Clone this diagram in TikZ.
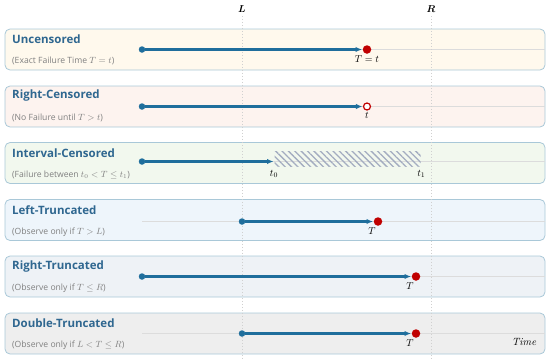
\documentclass[tikz,border=0pt]{standalone}
\usepackage{amsmath}
\usepackage{amssymb}
\usepackage{xcolor}
\usepackage{fontspec}
\setsansfont{Open Sans}
\usepackage{tikz}
\usetikzlibrary{positioning,patterns.meta,arrows.meta}

\definecolor{edgeblue}{HTML}{A9C8D8}
\definecolor{headblue}{HTML}{2F6790}
\definecolor{notegray}{HTML}{808080}
\definecolor{lineblue}{HTML}{1F6E9C}
\definecolor{failred}{HTML}{C00000}
\definecolor{axisgray}{HTML}{DCDCDC}
\definecolor{guidegray}{HTML}{D0D0D0}
\definecolor{hatchgray}{HTML}{A3ACC0}
\definecolor{fillone}{HTML}{FFF9ED}
\definecolor{filltwo}{HTML}{FDF3EF}
\definecolor{fillthree}{HTML}{F2F8EE}
\definecolor{fillfour}{HTML}{EEF5FB}
\definecolor{fillfive}{HTML}{EEF2F6}
\definecolor{fillsix}{HTML}{EEEEEE}

\begin{document}
\begin{tikzpicture}[x=1pt,y=-1pt,
  panel/.style={rectangle, rounded corners=5pt, draw=edgeblue, line width=0.8pt,
    minimum width=540pt, minimum height=41pt, inner sep=0pt},
  heading/.style={anchor=west, inner sep=0pt, text=headblue,
    font=\sffamily\bfseries\fontsize{11.5}{13}\selectfont},
  note/.style={anchor=west, inner sep=0pt, text=notegray,
    font=\sffamily\fontsize{8.6}{10}\selectfont},
  startdot/.style={circle, fill=lineblue, inner sep=0pt, minimum size=6.5pt},
  faildot/.style={circle, fill=failred, inner sep=0pt, minimum size=8.5pt},
  censdot/.style={circle, draw=failred, fill=white, line width=1.2pt, inner sep=0pt, minimum size=7pt},
  span/.style={-{Latex[length=6.5pt,width=5.5pt]}, draw=lineblue, line width=2.1pt, shorten >=0.5pt},
  axis/.style={draw=axisgray, line width=0.6pt},
  guide/.style={draw=guidegray, line width=0.5pt, dash pattern=on 1.5pt off 1.5pt},
  mark label/.style={inner sep=1pt, font=\fontsize{10}{12}\selectfont}]
\useasboundingbox (0,0) rectangle (550,359);

% panels
\node (uncens) [panel, fill=fillone] at (275,49.5) {};
\node (rcens) [panel, fill=filltwo] at (275,106.5) {};
\node (icens) [panel, fill=fillthree] at (275,163) {};
\node (ltrunc) [panel, fill=fillfour] at (275,220) {};
\node (rtrunc) [panel, fill=fillfive] at (275,276.5) {};
\node (dtrunc) [panel, fill=fillsix] at (275,333.5) {};

% headings and notes
\node (uncenshead) [heading] at (12,39) {Uncensored};
\node (uncensnote) [note] at (12,61) {(Exact Failure Time $T=t$)};
\node (rcenshead) [heading] at (12,96) {Right-Censored};
\node (rcensnote) [note] at (12,118) {(No Failure until $T>t$)};
\node (icenshead) [heading] at (12,153) {Interval-Censored};
\node (icensnote) [note] at (12,175) {(Failure between $t_0<T\leq t_1$)};
\node (ltrunchead) [heading] at (12,210) {Left-Truncated};
\node (ltruncnote) [note] at (12,232) {(Observe only if $T>L$)};
\node (rtrunchead) [heading] at (12,267) {Right-Truncated};
\node (rtruncnote) [note] at (12,288.5) {(Observe only if $T\leq R$)};
\node (dtrunchead) [heading] at (12,323.5) {Double-Truncated};
\node (dtruncnote) [note] at (12,345) {(Observe only if $L<T\leq R$)};

% time axes
\coordinate (axone) at (142,49.5);
\coordinate (axtwo) at (142,106.5);
\coordinate (axthree) at (142,161.5);
\coordinate (axfour) at (142,221.5);
\coordinate (axfive) at (142,276.5);
\coordinate (axsix) at (142,333.5);
\draw[axis] (axone) -- (axone -| uncens.east);
\draw[axis] (axtwo) -- (axtwo -| rcens.east);
\draw[axis] (axthree) -- (axthree -| icens.east);
\draw[axis] (axfour) -- (axfour -| ltrunc.east);
\draw[axis] (axfive) -- (axfive -| rtrunc.east);
\draw[axis] (axsix) -- (axsix -| dtrunc.east);

% L and R guides
\node (Lmark) at (242,9) {$\boldsymbol{L}$};
\node (Rmark) at (431,9) {$\boldsymbol{R}$};
\coordinate (Lend) at (242,359);
\coordinate (Rend) at (431,359);
\draw[guide] (Lmark.south) -- (Lend);
\draw[guide] (Rmark.south) -- (Rend);

% uncensored
\node (unstart) [startdot] at (axone) {};
\node (unfail) [faildot] at (367,49.5) {};
\node (unlabel) [mark label, below=1pt of unfail] {$T=t$};
\draw[span] (unstart) -- (unfail);

% right-censored
\node (rcstart) [startdot] at (axtwo) {};
\node (rccens) [censdot] at (367,106.5) {};
\node (rclabel) [mark label, below=1pt of rccens] {$t$};
\draw[span] (rcstart) -- (rccens);

% interval-censored
\node (icstart) [startdot] at (axthree) {};
\node (icband) [rectangle, anchor=west, minimum width=146pt, minimum height=15pt, inner sep=0pt,
  pattern={Lines[angle=-45,distance=4.5pt,line width=1.3pt]}, pattern color=hatchgray] at (274,158.5) {};
\node (iclow) [mark label, below=2pt of icband.south west] {$t_0$};
\node (ichigh) [mark label, below=2pt of icband.south east] {$t_1$};
\draw[span] (icstart) -- (icstart -| icband.west);

% left-truncated
\node (ltstart) [startdot] at (axfour -| Lmark) {};
\node (ltfail) [faildot] at (378,221.5) {};
\node (ltlabel) [mark label, below=1pt of ltfail, xshift=-6pt] {$T$};
\draw[span] (ltstart) -- (ltfail);

% right-truncated
\node (rtstart) [startdot] at (axfive) {};
\node (rtfail) [faildot] at (416,276.5) {};
\node (rtlabel) [mark label, below=1pt of rtfail, xshift=-6pt] {$T$};
\draw[span] (rtstart) -- (rtfail);

% double-truncated
\node (dtstart) [startdot] at (axsix -| Lmark) {};
\node (dtfail) [faildot] at (416,333.5) {};
\node (dtlabel) [mark label, below=1pt of dtfail, xshift=-6pt] {$T$};
\draw[span] (dtstart) -- (dtfail);
\node (timelabel) [font=\itshape\fontsize{10.5}{12}\selectfont] at (524,342) {Time};
\end{tikzpicture}
\end{document}
